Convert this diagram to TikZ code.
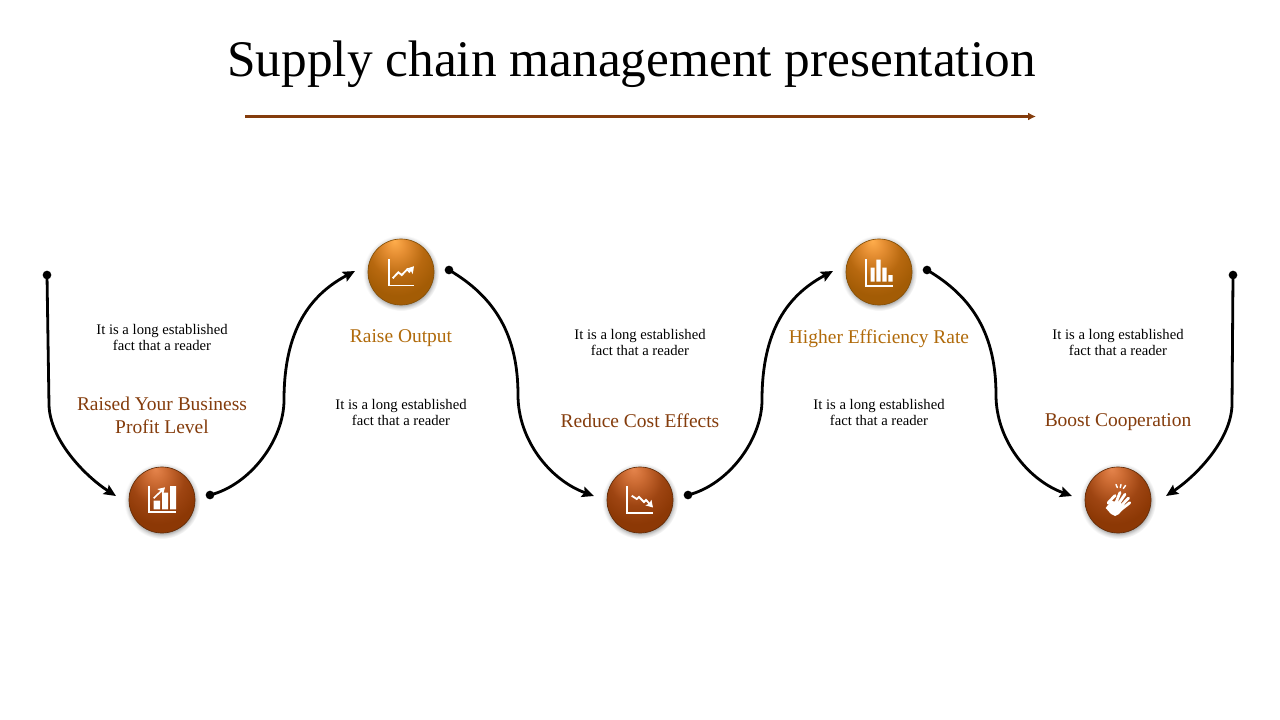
\documentclass[tikz,border=0pt]{standalone}
\usepackage{fontspec}
\usetikzlibrary{arrows.meta}
\setmainfont{Liberation Serif}
\definecolor{rust}{HTML}{843C0C}
\definecolor{amber}{HTML}{B06A0A}
\pgfdeclareradialshading{ballrust}{\pgfpoint{-5bp}{24bp}}{%
  rgb(0bp)=(.90,.52,.30); rgb(8bp)=(.80,.42,.20); rgb(20bp)=(.62,.27,.07); rgb(30bp)=(.55,.22,.02); rgb(60bp)=(.55,.22,.02)}
\pgfdeclareradialshading{ballamber}{\pgfpoint{-5bp}{24bp}}{%
  rgb(0bp)=(1,.68,.30); rgb(8bp)=(.90,.56,.20); rgb(20bp)=(.72,.41,.06); rgb(30bp)=(.64,.36,.02); rgb(60bp)=(.64,.36,.02)}
\pgfdeclareradialshading{ballglow}{\pgfpointorigin}{%
  rgb(0bp)=(.68,.68,.68); rgb(21bp)=(.68,.68,.68); rgb(23bp)=(.88,.88,.88); rgb(25bp)=(1,1,1); rgb(50bp)=(1,1,1)}
\tikzset{
  hubglow/.style={circle,inner sep=0pt,minimum size=57pt,shading=ballglow},
  hub/.style={circle,inner sep=0pt,minimum size=49.5pt,shading=ball#1,draw=#1!75!black,line width=.5pt},
  dot/.style={circle,fill=black,inner sep=0pt,minimum size=6.5pt},
  link/.style={line width=2.1pt,-{Stealth[length=9pt,width=8pt,inset=1.5pt]},black},
  head/.style={font=\fontsize{14.6}{17.2}\selectfont,align=center},
  blurb/.style={font=\fontsize{11}{12}\selectfont,align=center},
  icon/.style={line width=1.4pt,draw=white},
  tip/.style={-{Stealth[length=5pt,width=6pt,inset=1pt]}},
  chartbars/.pic={
    \draw[icon] (-12.7,-14)--(-12.7,12)--(14,12);
    \fill[white] (-8.3,.7) rectangle (-2,9.3) (0,-7.3) rectangle (6,9.3) (8,-14) rectangle (14,9.3);
    \draw[icon,line width=1.2pt,tip] (-8.3,-1.7)--(3,-12.7);
  },
  chartrise/.pic={
    \draw[icon] (-12.3,-13)--(-12.3,13.5)--(13,13.5);
    \draw[icon,tip] (-8.3,6.3)--(-2.7,.3)--(.7,3)--(6.3,-2.7)--(8.3,-.3)--(13,-5.8);
  },
  chartfall/.pic={
    \draw[icon] (-12.7,-14)--(-12.7,12.7)--(13.3,12.7);
    \draw[icon,tip] (-8.3,-4.3)--(-3.3,-1)--(-1,-3)--(4,2)--(6,0)--(13,7.5);
  },
  chartflat/.pic={
    \draw[icon] (-13,-13)--(-13,13.7)--(13.7,13.7);
    \fill[white] (-8.3,-4.3) rectangle (-4.3,9.7) (-2.7,-12.3) rectangle (1.7,9.7)
      (3.3,-4.3) rectangle (7.7,9.7) (9.3,3) rectangle (13.7,9.7);
  },
  clap/.pic={
    \fill[white] (-12.3,8)--(-7,1)--(2,2)--(6,8)--(1,14)--(-3,16)--(-7,14)--cycle;
    \draw[white,line width=2.1pt,line cap=round] (-3,5)--(2,-7.5) (-1,6)--(7,-5.7) (1,8)--(10.5,-2) (2.5,10)--(11.8,2.7) (-10,3)--(-3,-4.5);
    \draw[line width=1.1pt,line cap=round,draw=white] (-2,-15.5)--(-.7,-12.5) (3,-15.5)--(2.3,-12.5) (7.5,-14.5)--(5.3,-11.5);
  }
}
\begin{document}
\begin{tikzpicture}[x=.75pt,y=-.75pt]
  \useasboundingbox (0,0) rectangle (1280,720);

  % title
  \node (title) at (631.5,64) {\fontsize{38.5}{40}\selectfont Supply chain management presentation};
  \coordinate (ruleA) at (245,116.5);
  \coordinate (ruleB) at (1036,116.5);
  \draw[line width=2.2pt,rust,-{Latex[length=6pt,width=6pt]}] (ruleA)--(ruleB);

  % hubs
  \foreach \n/\x/\y/\c/\ico in {1/162/500/rust/chartbars, 2/401/272/amber/chartrise,
      3/640/500/rust/chartfall, 4/879/272/amber/chartflat, 5/1118/500/rust/clap}{
    \node[hubglow] (glow\n) at (\x,\y+1) {};
    \node[hub=\c] (hub\n) at (\x,\y) {};
    \path (hub\n.center) pic {\ico};
  }

  % loose ends
  \foreach \n/\x/\y in {1/47/275, 2/210/495, 3/449/270, 4/688/495, 5/927/270, 6/1233/275}{
    \node[dot] (from\n) at (\x,\y) {};
  }
  \foreach \n/\x/\y in {1/116/496, 2/355/271, 3/594/496, 4/833/271, 5/1072/496, 6/1166/496}{
    \coordinate (to\n) at (\x,\y);
  }

  \draw[link] (from1.center)--(49,405) .. controls (50,440) and (85,476) .. (to1);
  \draw[link] (from2.center) .. controls (250,485) and (284,440) .. (284,400)
     .. controls (284,330) and (310,295) .. (to2);
  \draw[link] (from3.center) .. controls (495,297) and (518,335) .. (518,395)
     .. controls (518,440) and (550,480) .. (to3);
  \draw[link] (from4.center) .. controls (728,485) and (762,440) .. (762,400)
     .. controls (762,330) and (788,295) .. (to4);
  \draw[link] (from5.center) .. controls (973,297) and (996,335) .. (996,395)
     .. controls (996,440) and (1028,480) .. (to5);
  \draw[link] (from6.center)--(1232,405) .. controls (1231,440) and (1196,476) .. (to6);

  % headings
  \node[head,rust] (head1) at (162,415.5) {Raised Your Business\\Profit Level};
  \node[head,amber] (head2) at (401,338.5) {Raise Output};
  \node[head,rust] (head3) at (640,421) {Reduce Cost Effects};
  \node[head,amber] (head4) at (879,338.5) {Higher Efficiency Rate};
  \node[head,rust] (head5) at (1118,422) {Boost Cooperation};

  % small text
  \foreach \n/\x/\y in {1/162/337.5, 2/401/412.5, 3/640/342.5, 4/879/412.5, 5/1118/342.5}{
    \node[blurb] (note\n) at (\x,\y) {It is a long established\\fact that a reader};
  }
\end{tikzpicture}
\end{document}
